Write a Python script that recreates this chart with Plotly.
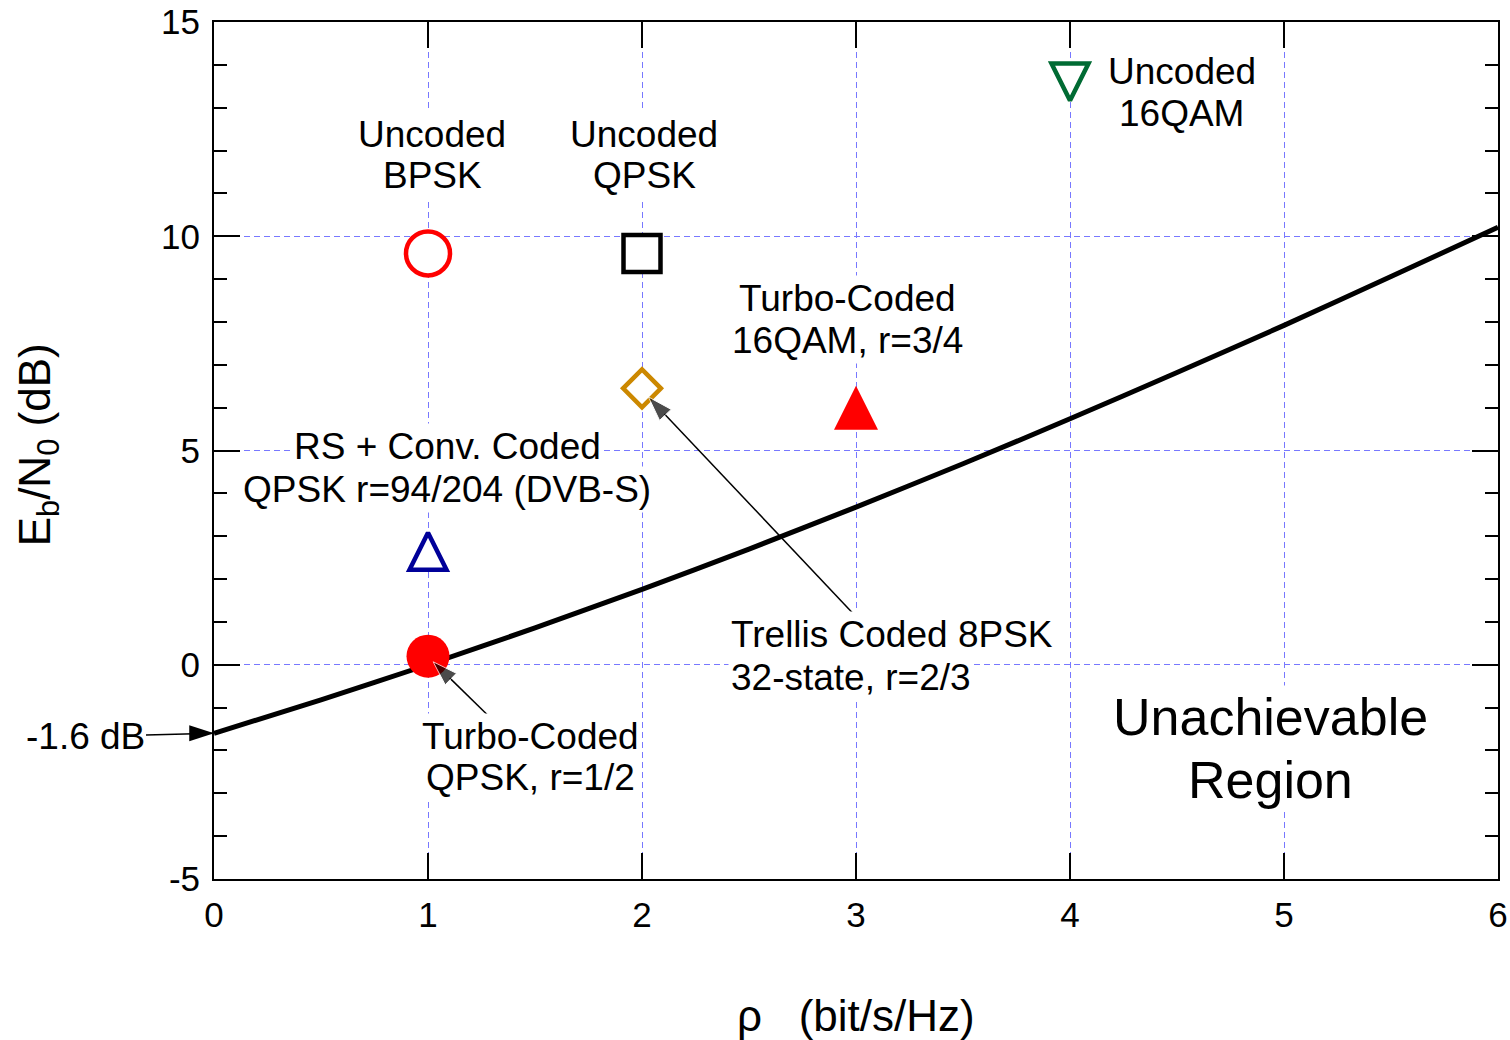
import plotly.graph_objects as go

# Shannon limit: minimum Eb/N0 (dB) versus spectral efficiency rho (bit/s/Hz)
rho = [0, 0.5, 1, 1.5, 2, 2.5, 3, 3.5, 4, 4.5, 5, 5.5, 6]
ebn0_limit = [-1.6, -0.82, 0.0, 0.86, 1.76, 2.70, 3.68, 4.69, 5.74, 6.82, 7.92, 9.06, 10.21]

# Operating points of the individual modulation / coding schemes
scheme_names = [
    "Uncoded BPSK",
    "Uncoded QPSK",
    "Uncoded 16QAM",
    "Turbo-Coded 16QAM, r=3/4",
    "Trellis Coded 8PSK",
    "RS + Conv. Coded QPSK",
    "Turbo-Coded QPSK, r=1/2",
]
scheme_rho = [1, 2, 4, 3, 2, 1, 1]
scheme_ebn0 = [9.6, 9.6, 13.6, 6.0, 6.45, 2.65, 0.2]

# Text labels, one entry per line
label_text = [
    "Uncoded", "BPSK",
    "Uncoded", "QPSK",
    "Uncoded", "16QAM",
    "Turbo-Coded", "16QAM, r=3/4",
    "RS + Conv. Coded", "QPSK r=94/204 (DVB-S)",
    "Trellis Coded 8PSK", "32-state, r=2/3",
    "Turbo-Coded", "QPSK, r=1/2",
]
label_x = [1.02, 1.02, 2.01, 2.01, 4.522, 4.522, 2.96, 2.96,
           1.09, 1.09, 2.404, 2.404, 1.478, 1.478]
label_y = [12.37, 11.41, 12.37, 11.41, 13.84, 12.86, 8.55, 7.56,
           5.09, 4.10, 0.70, -0.29, -1.68, -2.62]
label_anchor = ["center"] * 10 + ["left", "left"] + ["center"] * 2

region_text = ["Unachievable", "Region"]
region_x = [4.935, 4.935]
region_y = [-1.23, -2.68]

# Pointer arrows from a label to its operating point: tail -> tip
arrow_tail_x = [1.282, 2.984]
arrow_tail_y = [-1.19, 1.21]
arrow_tip_x = [1.024, 2.030]
arrow_tip_y = [0.07, 6.25]

x_ticks = [0, 1, 2, 3, 4, 5, 6]
y_ticks = [-5, 0, 5, 10, 15]
y_tick_text = ["-5", "0", "5", "10", "15"]

FONT = "Arial, Liberation Sans, sans-serif"

fig = go.Figure()

# Capacity bound
fig.add_trace(go.Scatter(
    x=rho, y=ebn0_limit, mode="lines",
    line=dict(color="black", width=5, shape="spline", smoothing=0.6),
    hoverinfo="skip", showlegend=False,
))

# Marker styles for each scheme
styles = [
    dict(symbol="circle", size=44, color="white", line=dict(color="#ff0000", width=4.5)),
    dict(symbol="square", size=37, color="white", line=dict(color="black", width=4.5)),
    dict(symbol="arrow-down", size=37, angle=0, standoff=18.5, color="white",
         line=dict(color="#006b33", width=4.5)),
    dict(symbol="arrow-down", size=44, angle=180, standoff=22, color="#ff0000",
         line=dict(width=0)),
    dict(symbol="diamond", size=29, color="white", line=dict(color="#cc8800", width=4.5)),
    dict(symbol="arrow-down", size=37, angle=180, standoff=18.5, color="white",
         line=dict(color="#000099", width=4.5)),
    dict(symbol="circle", size=43, color="#ff0000", line=dict(width=0)),
]

for name, xv, yv, st in zip(scheme_names, scheme_rho, scheme_ebn0, styles):
    fig.add_trace(go.Scatter(
        x=[xv], y=[yv], mode="markers", name=name,
        marker=st, showlegend=False, hoverinfo="name+x+y",
    ))

# Pointer arrows: thin line with a slim arrowhead oriented along the segment
for tx, ty, hx, hy in zip(arrow_tail_x, arrow_tail_y, arrow_tip_x, arrow_tip_y):
    fig.add_trace(go.Scatter(
        x=[tx, hx], y=[ty, hy], mode="lines+markers",
        line=dict(color="black", width=1.5),
        marker=dict(symbol="arrow", size=[0, 26], angleref="previous", color="black"),
        hoverinfo="skip", showlegend=False,
    ))

# Arrowhead marking the limit at rho -> 0
fig.add_trace(go.Scatter(
    x=[rho[0]], y=[ebn0_limit[0]], mode="markers",
    marker=dict(symbol="arrow", size=26, angle=90, color="black"),
    cliponaxis=False, hoverinfo="skip", showlegend=False,
))

annotations = []
for t, xv, yv, anc in zip(label_text, label_x, label_y, label_anchor):
    annotations.append(dict(
        text=t, x=xv, y=yv, xref="x", yref="y", showarrow=False,
        xanchor=anc, yanchor="middle", align=anc,
        font=dict(family=FONT, size=37, color="black"),
        bgcolor="white", borderpad=2,
    ))
for t, xv, yv in zip(region_text, region_x, region_y):
    annotations.append(dict(
        text=t, x=xv, y=yv, xref="x", yref="y", showarrow=False,
        xanchor="center", yanchor="middle",
        font=dict(family=FONT, size=52, color="black"),
        bgcolor="white", borderpad=2,
    ))

# "-1.6 dB" label with its leader line
annotations.append(dict(
    text=f"{ebn0_limit[0]} dB", x=rho[0], y=ebn0_limit[0], xref="x", yref="y",
    showarrow=True, arrowhead=0, arrowwidth=1.5, arrowcolor="black",
    ax=-129, ay=3, font=dict(family=FONT, size=37, color="black"),
))

# Axis titles
annotations.append(dict(
    text="E<sub>b</sub>/N<sub>0</sub> (dB)", x=0, y=0.506, xref="paper", yref="paper",
    xanchor="center", yanchor="middle", xshift=-176, textangle=-90, showarrow=False,
    font=dict(family=FONT, size=44, color="black"),
))
annotations.append(dict(
    text="\u03c1\u00a0\u00a0 (bit/s/Hz)", x=0.5, y=0, xref="paper", yref="paper",
    xanchor="center", yanchor="middle", yshift=-136, showarrow=False,
    font=dict(family=FONT, size=44, color="black"),
))

axis_common = dict(
    showline=True, linecolor="black", linewidth=2, mirror="ticks",
    ticks="inside", ticklen=26, tickwidth=2, tickcolor="black",
    showgrid=True, gridcolor="#7878ff", gridwidth=1, griddash="6px,4px",
    zeroline=False, automargin=False,
    tickfont=dict(family=FONT, size=35, color="black"),
)

fig.update_layout(
    width=1510, height=1040,
    margin=dict(l=214, r=12, t=22, b=161, autoexpand=False),
    paper_bgcolor="white", plot_bgcolor="white",
    showlegend=False,
    xaxis=dict(range=[0, 6], tickvals=x_ticks, ticklabelstandoff=4, **axis_common),
    yaxis=dict(range=[-5, 15], tickvals=y_ticks, ticktext=y_tick_text,
               ticklabelstandoff=5,
               minor=dict(dtick=1, ticks="inside", ticklen=13, tickwidth=2,
                          tickcolor="black", showgrid=False),
               **axis_common),
    annotations=annotations,
)

fig.write_html("out.html")
